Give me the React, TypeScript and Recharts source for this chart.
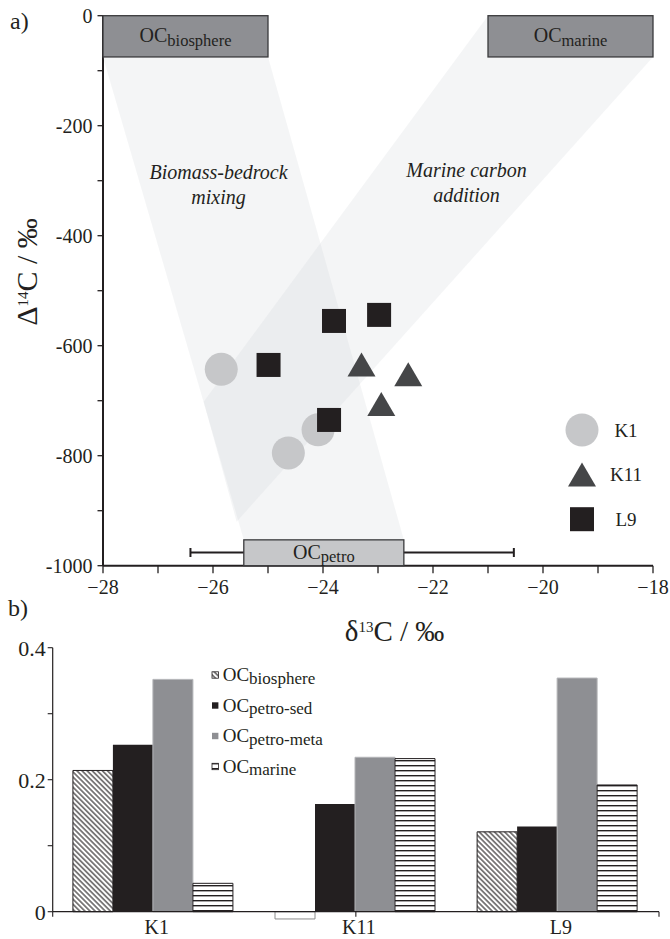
import React from "react";
import {
  ScatterChart,
  Scatter,
  XAxis,
  YAxis,
  Legend,
  BarChart,
  Bar,
  Cell,
  ReferenceLine,
} from "recharts";

const serif = '"Liberation Serif", "Times New Roman", serif';
const ink = "#231f20";

// ---- panel a) : sample isotopes (d13C, D14C)
const k1 = [
  { x: -25.85, y: -643 },
  { x: -24.09, y: -753 },
  { x: -24.63, y: -795 },
];
const k11 = [
  { x: -23.3, y: -634 },
  { x: -22.45, y: -652 },
  { x: -22.94, y: -706 },
];
const l9 = [
  { x: -23.8, y: -555 },
  { x: -22.98, y: -544 },
  { x: -24.99, y: -635 },
  { x: -23.89, y: -735 },
];

// end-member boxes, two opposite corners
const ocBiosphere = [{ x: -28, y: 0 }, { x: -25, y: -75 }];
const ocMarine = [{ x: -21, y: 0 }, { x: -18, y: -75 }];
const ocPetro = [{ x: -25.44, y: -953 }, { x: -22.53, y: -1000 }];
const ocPetroRange = [{ x: -26.41, y: -976 }, { x: -20.53, y: -976 }];

// shaded mixing fields
const mixingBand = [
  { x: -28, y: -75 },
  { x: -25, y: -75 },
  { x: -22.53, y: -953 },
  { x: -25.44, y: -953 },
];
const marineBand = [
  { x: -21, y: 0 },
  { x: -18, y: -75 },
  { x: -25.57, y: -920 },
  { x: -26.17, y: -702 },
];
const zoneLabels = [
  { x: -25.9, y: -297, lines: ["Biomass-bedrock", "mixing"] },
  { x: -21.39, y: -294, lines: ["Marine carbon", "addition"] },
];

const d13cTicks = [-28, -27, -26, -25, -24, -23, -22, -21, -20, -19, -18];
const d14cTicks = [-1000, -900, -800, -700, -600, -500, -400, -300, -200, -100, 0];

// ---- panel b) : end-member fractions
const samples = ["K1", "K11", "L9"];
const fBiosphere = [0.214, -0.011, 0.121];
const fPetroSed = [0.253, 0.163, 0.129];
const fPetroMeta = [0.352, 0.234, 0.354];
const fMarine = [0.043, 0.232, 0.192];
const fractionTicks = [0, 0.1, 0.2, 0.3, 0.4];

const barData = samples.map((s, i) => ({
  sample: s,
  biosphere: fBiosphere[i],
  petroSed: fPetroSed[i],
  petroMeta: fPetroMeta[i],
  marine: fMarine[i],
}));

const seriesOrder = ["biosphere", "petroSed", "petroMeta", "marine"];
const barStyle: Record<string, { fill: string; stroke: string }> = {
  biosphere: { fill: "url(#hatch)", stroke: ink },
  petroSed: { fill: ink, stroke: ink },
  petroMeta: { fill: "#8e8f93", stroke: "#b4b5b8" },
  marine: { fill: "url(#stripes)", stroke: ink },
};

const fmtD13C = (v: number) => (v % 2 === 0 ? `\u2212${Math.abs(v)}` : "");
const fmtD14C = (v: number) => (v % 200 === 0 ? String(v) : "");
const fmtFraction = (v: number) => {
  const t = Math.round(v * 10);
  if (t % 2 !== 0) return "";
  return t === 0 ? "0" : (t / 10).toFixed(1);
};

// ---- shapes
const noMark = () => <g />;

const bandShape = (p: any) => (
  <polygon
    points={p.points.map((q: any) => `${q.x},${q.y}`).join(" ")}
    fill="#d3d5d9"
    fillOpacity={0.24}
    stroke="none"
  />
);

const boxShape = (sub: string, fill: string) => (p: any) => {
  const [a, b] = p.points;
  const x = Math.min(a.x, b.x);
  const y = Math.min(a.y, b.y);
  const w = Math.abs(a.x - b.x);
  const h = Math.abs(a.y - b.y);
  return (
    <g>
      <rect x={x} y={y} width={w} height={h} fill={fill} stroke="#3a3a3c" strokeWidth={1.3} />
      <text x={x + w / 2} y={y + h / 2 + 6} textAnchor="middle" fontFamily={serif} fontSize={20} fill={ink}>
        OC<tspan fontSize={16.5} dy={3.5}>{sub}</tspan>
      </text>
    </g>
  );
};

const rangeShape = (p: any) => {
  const [a, b] = p.points;
  return (
    <g stroke={ink} strokeWidth={2}>
      <line x1={a.x} y1={a.y} x2={b.x} y2={b.y} />
      <line x1={a.x} y1={a.y - 4.5} x2={a.x} y2={a.y + 4.5} />
      <line x1={b.x} y1={b.y - 4.5} x2={b.x} y2={b.y + 4.5} />
    </g>
  );
};

const zoneLabel = (p: any) => (
  <text x={p.cx} y={p.cy} textAnchor="middle" fontFamily={serif} fontStyle="italic" fontSize={20} fill={ink}>
    {p.payload.lines.map((l: string, i: number) => (
      <tspan key={l} x={p.cx} dy={i === 0 ? 0 : 25}>
        {l}
      </tspan>
    ))}
  </text>
);

const circleMark = (p: any) => <circle cx={p.cx} cy={p.cy} r={16.5} fill="#c6c7c9" />;
const triangleMark = (p: any) => (
  <polygon
    points={`${p.cx},${p.cy - 12} ${p.cx + 14},${p.cy + 12} ${p.cx - 14},${p.cy + 12}`}
    fill="#454648"
  />
);
const squareMark = (p: any) => <rect x={p.cx - 12} y={p.cy - 12} width={24} height={24} fill={ink} />;

const markFor: Record<string, (p: any) => React.ReactElement> = {
  K1: circleMark,
  K11: triangleMark,
  L9: squareMark,
};

function SampleKey(props: any) {
  const items = (props.payload || [])
    .filter((it: any) => markFor[it.value])
    .sort((a: any, b: any) => samples.indexOf(a.value) - samples.indexOf(b.value));
  return (
    <svg width={100} height={140}>
      {items.map((it: any, i: number) => {
        const cy = 25 + i * 44.6;
        return (
          <g key={it.value}>
            {markFor[it.value]({ cx: 22, cy })}
            <text x={66} y={cy + 6.5} textAnchor="middle" fontFamily={serif} fontSize={19} fill={ink}>
              {it.value}
            </text>
          </g>
        );
      })}
    </svg>
  );
}

function FractionKey(props: any) {
  const items = [...(props.payload || [])].sort(
    (a: any, b: any) => seriesOrder.indexOf(a.dataKey) - seriesOrder.indexOf(b.dataKey)
  );
  return (
    <svg width={200} height={125}>
      {items.map((it: any, i: number) => {
        const cy = 17 + i * 30.5;
        const st = barStyle[it.dataKey];
        const framed = it.dataKey === "biosphere" || it.dataKey === "marine";
        return (
          <g key={it.value}>
            <rect
              x={4}
              y={cy - 3.2}
              width={6.4}
              height={6.4}
              fill={st.fill}
              stroke={framed ? ink : "none"}
              strokeWidth={0.8}
            />
            <text x={14.7} y={cy + 6.3} fontFamily={serif} fontSize={19} fill={ink}>
              OC<tspan fontSize={17} dy={2.5}>{it.value}</tspan>
            </text>
          </g>
        );
      })}
    </svg>
  );
}

function PatternDefs() {
  return (
    <svg width={0} height={0} style={{ position: "absolute" }}>
      <defs>
        <pattern id="hatch" width={3.6} height={3.6} patternUnits="userSpaceOnUse" patternTransform="rotate(-45)">
          <rect width={3.6} height={3.6} fill="#fff" />
          <line x1={1.8} y1={0} x2={1.8} y2={3.6} stroke={ink} strokeWidth={1.1} />
        </pattern>
        <pattern id="stripes" width={6} height={5} patternUnits="userSpaceOnUse">
          <rect width={6} height={5} fill="#fff" />
          <rect y={0} width={6} height={1.4} fill={ink} />
        </pattern>
      </defs>
    </svg>
  );
}

function IsotopePanel() {
  const tick = { fontSize: 20, fontFamily: serif, fill: ink };
  return (
    <ScatterChart width={670} height={660} margin={{ top: 15.7, right: 17, bottom: 0, left: 0 }}>
      <XAxis
        type="number"
        dataKey="x"
        domain={[-28, -18]}
        ticks={d13cTicks}
        interval={0}
        tickFormatter={fmtD13C}
        height={94.3}
        tickSize={7.5}
        tickMargin={7}
        axisLine={{ stroke: ink, strokeWidth: 2 }}
        tickLine={{ stroke: ink, strokeWidth: 1.3 }}
        tick={tick}
      />
      <YAxis
        type="number"
        dataKey="y"
        domain={[-1000, 0]}
        ticks={d14cTicks}
        interval={0}
        tickFormatter={fmtD14C}
        width={103}
        tickSize={5.5}
        tickMargin={5}
        axisLine={{ stroke: ink, strokeWidth: 2 }}
        tickLine={{ stroke: ink, strokeWidth: 1.3 }}
        tick={tick}
      />
      <Scatter name="mixing" data={mixingBand} shape={noMark} line={bandShape} legendType="none" isAnimationActive={false} />
      <Scatter name="marine addition" data={marineBand} shape={noMark} line={bandShape} legendType="none" isAnimationActive={false} />
      <Scatter name="zones" data={zoneLabels} shape={zoneLabel} legendType="none" isAnimationActive={false} />
      <Scatter name="petro range" data={ocPetroRange} shape={noMark} line={rangeShape} legendType="none" isAnimationActive={false} />
      <Scatter name="OC biosphere" data={ocBiosphere} shape={noMark} line={boxShape("biosphere", "#8e8f93")} legendType="none" isAnimationActive={false} />
      <Scatter name="OC marine" data={ocMarine} shape={noMark} line={boxShape("marine", "#8e8f93")} legendType="none" isAnimationActive={false} />
      <Scatter name="OC petro" data={ocPetro} shape={noMark} line={boxShape("petro", "#c6c7c9")} legendType="none" isAnimationActive={false} />
      <Scatter name="K1" data={k1} shape={circleMark} isAnimationActive={false} />
      <Scatter name="K11" data={k11} shape={triangleMark} isAnimationActive={false} />
      <Scatter name="L9" data={l9} shape={squareMark} isAnimationActive={false} />
      <Legend
        layout="vertical"
        align="center"
        verticalAlign="middle"
        content={SampleKey}
        wrapperStyle={{ left: 560, top: 405, width: 100 }}
      />
    </ScatterChart>
  );
}

function FractionPanel() {
  return (
    <BarChart
      width={670}
      height={319}
      data={barData}
      margin={{ top: 27.7, right: 11, bottom: 0, left: 0 }}
      barCategoryGap="10%"
      barGap={0}
    >
      <XAxis
        dataKey="sample"
        height={19.05}
        axisLine={false}
        tickLine={false}
        tickSize={0}
        tickMargin={0}
        interval={0}
        tick={{ fontSize: 20, fontFamily: serif, fill: ink, dx: 3 }}
      />
      <XAxis xAxisId="frame" type="number" domain={[0, samples.length]} hide />
      <YAxis
        width={52.7}
        domain={[-0.0125, 0.4]}
        allowDataOverflow
        ticks={fractionTicks}
        interval={0}
        tickFormatter={fmtFraction}
        axisLine={false}
        tickSize={5}
        tickMargin={2}
        tickLine={{ stroke: ink, strokeWidth: 1.1 }}
        tick={{ fontSize: 22, fontFamily: serif, fill: ink }}
      />
      <Bar dataKey="biosphere" name="biosphere" fill={barStyle.biosphere.fill} stroke={ink} strokeWidth={1} isAnimationActive={false}>
        {barData.map((d) => (
          <Cell
            key={d.sample}
            fill={d.biosphere < 0 ? "#ffffff" : barStyle.biosphere.fill}
            stroke={d.biosphere < 0 ? "#8c8c8c" : ink}
          />
        ))}
      </Bar>
      <Bar dataKey="petroSed" name="petro-sed" fill={barStyle.petroSed.fill} isAnimationActive={false} />
      <Bar dataKey="petroMeta" name="petro-meta" fill={barStyle.petroMeta.fill} stroke={barStyle.petroMeta.stroke} strokeWidth={1} isAnimationActive={false} />
      <Bar dataKey="marine" name="marine" fill={barStyle.marine.fill} stroke={ink} strokeWidth={1} isAnimationActive={false} />
      <ReferenceLine xAxisId="frame" segment={[{ x: 0, y: 0 }, { x: 0, y: 0.4 }]} stroke={ink} strokeWidth={1.2} />
      <ReferenceLine xAxisId="frame" y={0} stroke={ink} strokeWidth={1.2} />
      {[0, 1, 2, 3].map((k) => (
        <ReferenceLine key={k} xAxisId="frame" segment={[{ x: k, y: 0 }, { x: k, y: -0.0075 }]} stroke={ink} strokeWidth={1.1} />
      ))}
      <Legend
        layout="vertical"
        align="center"
        verticalAlign="middle"
        content={FractionKey}
        wrapperStyle={{ left: 208, top: 38, width: 200 }}
      />
    </BarChart>
  );
}

function Titles() {
  return (
    <svg
      width={670}
      height={939}
      style={{ position: "absolute", left: 0, top: 0, pointerEvents: "none" }}
      fontFamily={serif}
      fill={ink}
    >
      <text x={10} y={29} fontSize={24}>a)</text>
      <text x={8} y={616} fontSize={24}>b)</text>
      <text transform="translate(37 272) rotate(-90)" textAnchor="middle" fontSize={30}>
        Δ<tspan fontSize={15} dy={-9.5}>14</tspan>
        <tspan dy={9.5}>C / ‰</tspan>
      </text>
      <text x={394.5} y={641} textAnchor="middle" fontSize={29}>
        δ<tspan fontSize={15} dy={-9.5}>13</tspan>
        <tspan dy={9.5}>C / ‰</tspan>
      </text>
    </svg>
  );
}

export default function App() {
  return (
    <div style={{ position: "absolute", left: 0, top: 0, width: 670, height: 939, background: "#fff" }}>
      <PatternDefs />
      <div style={{ position: "absolute", left: 0, top: 0 }}>
        <IsotopePanel />
      </div>
      <div style={{ position: "absolute", left: 0, top: 620 }}>
        <FractionPanel />
      </div>
      <Titles />
    </div>
  );
}
